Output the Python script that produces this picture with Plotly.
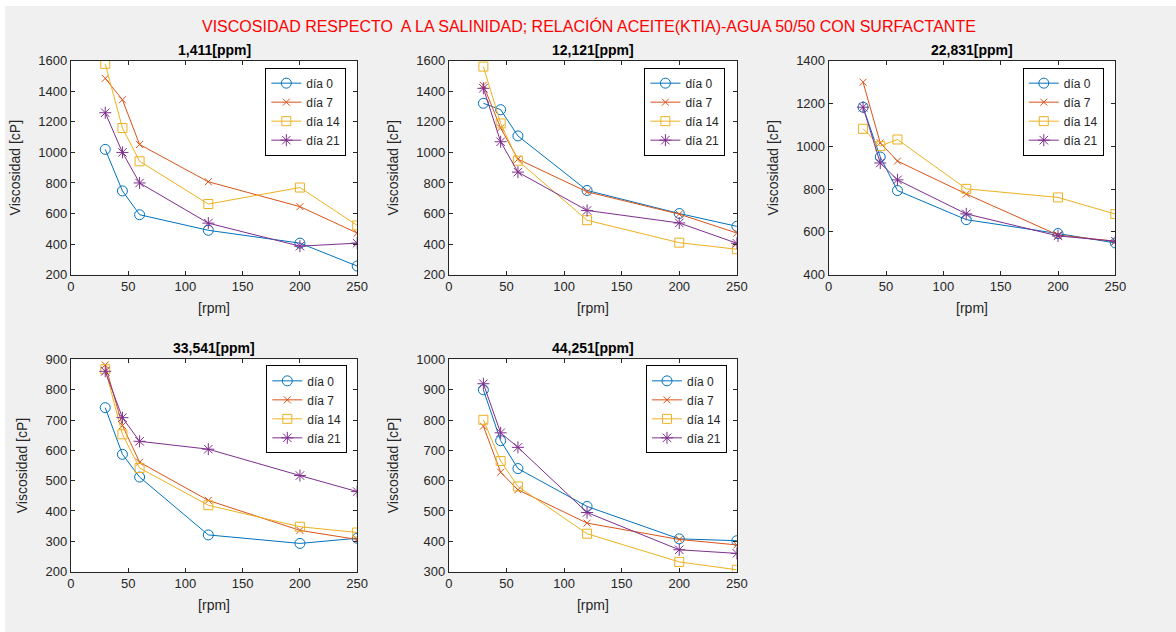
import plotly.graph_objects as go
from plotly.subplots import make_subplots

# %%
rpm = [30, 45, 60, 120, 200, 250]
days = ["día 0", "día 7", "día 14", "día 21"]
salinity = ["1,411[ppm]", "12,121[ppm]", "22,831[ppm]", "33,541[ppm]", "44,251[ppm]"]

visc_1411 = [
    [1020, 748, 592, 490, 406, 256],
    [1485, 1345, 1052, 808, 645, 472],
    [1580, 1160, 942, 662, 770, 522],
    [1260, 1000, 800, 537, 386, 406],
]
visc_12121 = [
    [1322, 1280, 1108, 751, 600, 516],
    [1440, 1160, 956, 742, 596, 472],
    [1562, 1190, 946, 556, 409, 366],
    [1420, 1070, 871, 620, 538, 405],
]
visc_22831 = [
    [1183, 950, 793, 657, 592, 548],
    [1300, 1016, 931, 777, 585, 556],
    [1082, 1001, 1032, 801, 761, 683],
    [1183, 922, 843, 684, 581, 556],
]
visc_33541 = [
    [741, 587, 512, 321, 293, 310],
    [882, 682, 561, 435, 336, 306],
    [868, 653, 542, 419, 348, 329],
    [861, 708, 630, 604, 517, 464],
]
visc_44251 = [
    [900, 732, 640, 515, 408, 402],
    [780, 628, 570, 460, 406, 388],
    [801, 665, 581, 425, 332, 306],
    [920, 758, 710, 495, 372, 360],
]
all_visc = [visc_1411, visc_12121, visc_22831, visc_33541, visc_44251]

colors = ["#0072BD", "#D95319", "#EDB120", "#7E2F8E"]
symbols = ["circle-open", "x-thin-open", "square-open", "asterisk-open"]
sizes = [10, 7, 9, 10]

# %%
# figure placed at (5, 6) on the page, filling the rest of the 1176x632 window
X0, Y0 = 5, 6
W, H = 1176 - X0, 632 - Y0


def px(x):
    return (x - X0) / W


def py(y):
    return 1 - (y - Y0) / H


cells = [(1, 1), (1, 2), (1, 3), (2, 1), (2, 2)]
yranges = [(200, 1600, 200), (200, 1600, 200), (400, 1400, 200), (200, 900, 100), (300, 1000, 100)]
xdom = [(px(67.7), px(357.7)), (px(450.5), px(742.3)), (px(835.3), px(1125.7))]
ydom = [(py(274), py(55)), (py(578.3), py(361))]
leg_pos = [(346.7, 62), (730.7, 62), (1114, 62), (347.7, 367), (732.3, 367)]

fig = make_subplots(rows=2, cols=3)

axis_col = "#262626"
font = "Liberation Sans, Arial, sans-serif"

for i, (r, c) in enumerate(cells):
    leg = "legend" if i == 0 else f"legend{i + 1}"
    for d in range(4):
        fig.add_trace(
            go.Scatter(
                x=rpm,
                y=all_visc[i][d],
                name=days[d],
                mode="lines+markers",
                line=dict(color=colors[d], width=1),
                marker=dict(symbol=symbols[d], size=sizes[d], color=colors[d],
                            line=dict(width=1, color=colors[d])),
                legend=leg,
            ),
            row=r,
            col=c,
        )
    y0, y1, dy = yranges[i]
    fig.update_xaxes(
        domain=xdom[c - 1], range=[0, 250], dtick=50, tick0=0,
        title=dict(text="[rpm]", standoff=10, font=dict(size=14, color=axis_col)),
        row=r, col=c,
    )
    fig.update_yaxes(
        domain=ydom[r - 1], range=[y0, y1], dtick=dy, tick0=y0,
        title=dict(text="Viscosidad [cP]", standoff=14, font=dict(size=14, color=axis_col)),
        row=r, col=c,
    )
    fig.add_annotation(
        text=f"<b>{salinity[i]}</b>", xref="paper", yref="paper",
        x=sum(xdom[c - 1]) / 2, y=ydom[r - 1][1], yanchor="bottom", xanchor="center",
        showarrow=False, yshift=1, font=dict(size=14, color="#000000"),
    )
    lx, ly = leg_pos[i]
    fig.update_layout({
        leg: dict(
            x=px(lx), y=py(ly), xanchor="right", yanchor="top", xref="paper", yref="paper",
            bgcolor="white", bordercolor="#000000", borderwidth=1,
            font=dict(size=12, color=axis_col), tracegroupgap=0,
        )
    })

fig.update_xaxes(
    showline=True, linecolor=axis_col, linewidth=1, mirror="ticks", ticks="inside",
    ticklen=4, tickcolor=axis_col, showgrid=False, zeroline=False,
    tickfont=dict(size=13, color=axis_col),
)
fig.update_yaxes(
    showline=True, linecolor=axis_col, linewidth=1, mirror="ticks", ticks="inside",
    ticklen=4, tickcolor=axis_col, showgrid=False, zeroline=False,
    tickfont=dict(size=13, color=axis_col),
)

fig.add_annotation(
    text="VISCOSIDAD RESPECTO  A LA SALINIDAD; RELACIÓN ACEITE(KTIA)-AGUA 50/50 CON SURFACTANTE",
    xref="paper", yref="paper", x=px(593), y=py(19), xanchor="center", yanchor="middle",
    showarrow=False, font=dict(size=16, color="#FF0000"),
)

fig.update_layout(
    width=W,
    height=H,
    margin=dict(l=0, r=0, t=0, b=0),
    paper_bgcolor="#F0F0F0",
    plot_bgcolor="white",
    font=dict(family=font, color=axis_col),
)

fig.write_html(
    "out.html",
    post_script=f"document.body.style.margin='{Y0}px 0 0 {X0}px';"
    "document.body.style.overflow='hidden';",
)
